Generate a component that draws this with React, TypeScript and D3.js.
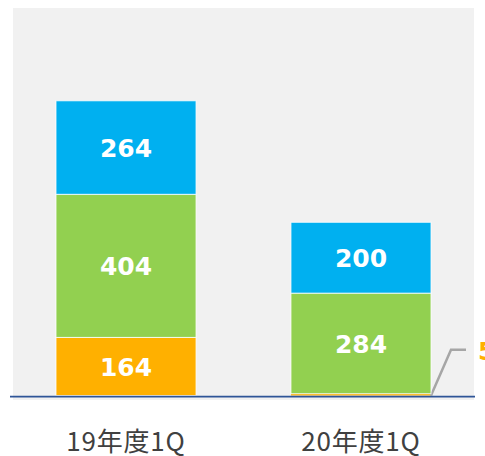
import React from "react";
import * as d3 from "d3";

const categories = ["19年度1Q", "20年度1Q"];
const seriesNames = ["bottom", "middle", "top"];
const bottomValues = [164, 5];
const middleValues = [404, 284];
const topValues = [264, 200];
const colors = ["#FFB000", "#92D050", "#00B0F0"];
const yMax = 1094;

const W = 485;
const H = 456;

export default function App() {
  const x = d3
    .scaleBand<string>()
    .domain(categories)
    .range([13, 474])
    .paddingInner(0.404)
    .paddingOuter(0.183);
  const y = d3.scaleLinear().domain([0, yMax]).range([395.5, 8]);

  const rows = categories.map((c, i) => ({
    cat: c,
    bottom: bottomValues[i],
    middle: middleValues[i],
    top: topValues[i],
  }));
  const stack = d3.stack<any>().keys(seriesNames)(rows);
  const bw = x.bandwidth();
  const numFont = { fontFamily: "'DejaVu Sans', Verdana, sans-serif" };

  return (
    <svg
      width={W}
      height={H}
      style={{ position: "absolute", left: 0, top: 0, display: "block" }}
    >
      <rect x={13} y={8} width={461} height={392} fill="#F1F1F1" />
      {stack.map((layer, li) =>
        layer.map((d, i) => {
          const x0 = x(categories[i])!;
          const y0 = y(d[1]);
          const y1 = y(d[0]);
          const v = d[1] - d[0];
          const small = v < 20;
          return (
            <g key={`${li}-${i}`}>
              <rect
                x={x0}
                y={y0}
                width={bw}
                height={Math.max(0, y1 - y0)}
                fill={colors[li]}
                stroke={small ? "none" : "#ffffff"}
                strokeOpacity={0.8}
                strokeWidth={1}
              />
              {!small && (
                <text
                  x={x0 + bw / 2}
                  y={(y0 + y1) / 2}
                  dy="0.37em"
                  textAnchor="middle"
                  fill="#ffffff"
                  fontWeight="bold"
                  fontSize={25}
                  style={numFont}
                >
                  {v}
                </text>
              )}
              {small && (
                <g>
                  <polyline
                    points={`${x0 + bw},${y(d[0])} ${x0 + bw + 20},${y(d[1]) - 44} ${x0 + bw + 35},${y(d[1]) - 44}`}
                    fill="none"
                    stroke="#A6A6A6"
                    strokeWidth={2.5}
                  />
                  <text
                    x={x0 + bw + 47}
                    y={y(d[1]) - 43}
                    dy="0.37em"
                    fill={colors[li]}
                    fontWeight="bold"
                    fontSize={25}
                    style={numFont}
                  >
                    {v}
                  </text>
                </g>
              )}
            </g>
          );
        })
      )}
      <line x1={10} x2={475} y1={y(0) + 1.2} y2={y(0) + 1.2} stroke="#2F5597" strokeWidth={1.8} />
      {categories.map((c) => (
        <text
          key={c}
          x={x(c)! + bw / 2}
          y={451}
          textAnchor="middle"
          fill="#404040"
          fontSize={26}
          style={{ fontFamily: "'Noto Sans CJK JP', sans-serif", letterSpacing: "0.8px" }}
        >
          {c}
        </text>
      ))}
    </svg>
  );
}
